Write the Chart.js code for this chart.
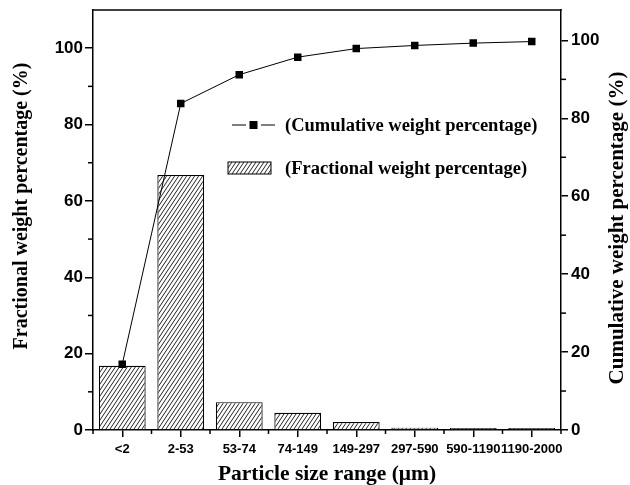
<!DOCTYPE html>
<html><head><meta charset="utf-8">
<script src="https://cdn.jsdelivr.net/npm/chart.js@4.4.1/dist/chart.umd.min.js"></script>
<style>html,body{margin:0;padding:0;background:#fff}#wrap{width:630px;height:485px}</style>
</head><body><div id="wrap"><canvas id="c" width="630" height="485"></canvas></div>
<script>
const categories = ['<2', '2-53', '53-74', '74-149', '149-297', '297-590', '590-1190', '1190-2000'];
const fractional = [16.8, 66.8, 7.3, 4.5, 2.1, 0.6, 0.5, 0.5];
const cumulative = [16.9, 83.8, 91.2, 95.7, 97.9, 98.7, 99.3, 99.7];
const leftTicks = [0, 20, 40, 60, 80, 100];
const leftMinor = [10, 30, 50, 70, 90];
const rightTicks = [0, 20, 40, 60, 80, 100];
const rightMinor = [10, 30, 50, 70, 90];
const cumLabel = '(Cumulative weight percentage)';
const fracLabel = '(Fractional weight percentage)';
const leftTitle = 'Fractional weight percentage (%)';
const rightTitle = 'Cumulative weight percentage (%)';
const xTitle = 'Particle size range (μm)';

const SERIF = '"Liberation Serif", "Times New Roman", serif';
const SANS = '"Liberation Sans", Arial, sans-serif';

function makeHatch() {
  const c = document.createElement('canvas');
  c.width = 4; c.height = 6;
  const g = c.getContext('2d');
  g.fillStyle = '#fff'; g.fillRect(0, 0, 4, 6);
  g.strokeStyle = '#222'; g.lineWidth = 1;
  for (const dx of [-4, 0, 4]) {
    g.beginPath(); g.moveTo(dx - 1, 7.5); g.lineTo(dx + 5, -1.5); g.stroke();
  }
  return g.createPattern(c, 'repeat');
}
const hatch = makeHatch();

const decor = {
  id: 'decor',
  afterDraw(chart) {
    const { ctx, chartArea: a, scales } = chart;
    ctx.save();
    ctx.strokeStyle = '#000';
    ctx.lineWidth = 1.5;
    const seg = (x1, y1, x2, y2) => { ctx.beginPath(); ctx.moveTo(x1, y1); ctx.lineTo(x2, y2); ctx.stroke(); };
    seg(a.left - 0.75, a.top, a.right + 0.75, a.top);
    leftMinor.forEach(v => { const y = scales.y.getPixelForValue(v); seg(a.left - 5, y, a.left, y); });
    rightMinor.forEach(v => { const y = scales.y2.getPixelForValue(v); seg(a.right, y, a.right + 5, y); });
    const xs = scales.x;
    const step = xs.getPixelForValue(1) - xs.getPixelForValue(0);
    for (let i = 0; i <= categories.length; i++) {
      const px = xs.getPixelForValue(0) - step / 2 + i * step;
      seg(px, a.bottom, px, a.bottom + 4);
    }
    // axis titles (both read bottom-to-top)
    ctx.fillStyle = '#000';
    ctx.textAlign = 'center';
    ctx.textBaseline = 'middle';
    ctx.save();
    ctx.font = 'bold 20px ' + SERIF;
    ctx.translate(22, 206);
    ctx.rotate(-Math.PI / 2);
    ctx.fillText(leftTitle, 0, 0);
    ctx.restore();
    ctx.save();
    ctx.font = 'bold 21px ' + SERIF;
    ctx.translate(618, 228);
    ctx.rotate(-Math.PI / 2);
    ctx.fillText(rightTitle, 0, 0);
    ctx.restore();
    // legend
    const lx = a.left + 139, ly1 = a.top + 115, ly2 = a.top + 158;
    ctx.lineWidth = 1;
    seg(lx, ly1, lx + 14, ly1);
    seg(lx + 29, ly1, lx + 43, ly1);
    ctx.fillRect(lx + 21.5 - 4, ly1 - 4, 8, 8);
    ctx.fillStyle = hatch;
    ctx.fillRect(lx - 4, ly2 - 6, 43, 12);
    ctx.strokeStyle = '#000';
    ctx.strokeRect(lx - 4, ly2 - 6, 43, 12);
    ctx.fillStyle = '#000';
    ctx.font = 'bold 18.5px ' + SERIF;
    ctx.textAlign = 'left';
    ctx.fillText(cumLabel, lx + 53, ly1 + 1);
    ctx.fillText(fracLabel, lx + 53, ly2 + 1);
    ctx.restore();
  }
};

new Chart(document.getElementById('c'), {
  data: {
    labels: categories,
    datasets: [
      {
        type: 'line', label: cumLabel, data: cumulative, yAxisID: 'y2', order: 0,
        borderColor: '#000', borderWidth: 1, backgroundColor: '#000',
        pointStyle: 'rect', pointRadius: 5.3, pointBackgroundColor: '#000', pointBorderWidth: 0,
        tension: 0
      },
      {
        type: 'bar', label: fracLabel, data: fractional, yAxisID: 'y', order: 1,
        backgroundColor: hatch, borderColor: '#000', borderWidth: 1.2,
        barPercentage: 0.8, categoryPercentage: 1.0
      }
    ]
  },
  options: {
    responsive: false, animation: false, devicePixelRatio: 1,
    layout: { padding: { top: 10, left: 0, right: 0, bottom: 0 } },
    plugins: { legend: { display: false }, tooltip: { enabled: false } },
    scales: {
      x: {
        type: 'category', offset: true,
        grid: { offset: false, drawOnChartArea: false, drawTicks: true, tickLength: 7, color: '#000', lineWidth: 1.5 },
        border: { color: '#000', width: 1.5 },
        ticks: { autoSkip: false, maxRotation: 0, minRotation: 0, color: '#000', padding: 5,
          font: { family: SANS, weight: 'bold', size: 13 } },
        title: { display: true, text: xTitle, color: '#000',
          font: { family: SERIF, weight: 'bold', size: 21.5, lineHeight: 1 }, padding: { top: 0, bottom: 0 } },
        afterFit(s) { s.height = 55; s.paddingLeft = 0; s.paddingRight = 0; }
      },
      y: {
        type: 'linear', position: 'left', min: 0, max: 110,
        afterBuildTicks(s) { s.ticks = leftTicks.map(v => ({ value: v })); },
        grid: { drawOnChartArea: false, tickLength: 8, color: '#000', lineWidth: 1.5 },
        border: { color: '#000', width: 1.5 },
        ticks: { color: '#000', padding: 2, font: { family: SANS, weight: 'bold', size: 17 } },
        afterFit(s) { s.width = 93; s.paddingTop = 0; s.paddingBottom = 0; }
      },
      y2: {
        type: 'linear', position: 'right', min: 0, max: 107.8,
        afterBuildTicks(s) { s.ticks = rightTicks.map(v => ({ value: v })); },
        grid: { drawOnChartArea: false, tickLength: 7, color: '#000', lineWidth: 1.5 },
        border: { color: '#000', width: 1.5 },
        ticks: { color: '#000', padding: 3, font: { family: SANS, weight: 'bold', size: 17 } },
        afterFit(s) { s.width = 69; s.paddingTop = 0; s.paddingBottom = 0; }
      }
    }
  },
  plugins: [decor]
});
</script>
</body></html>
